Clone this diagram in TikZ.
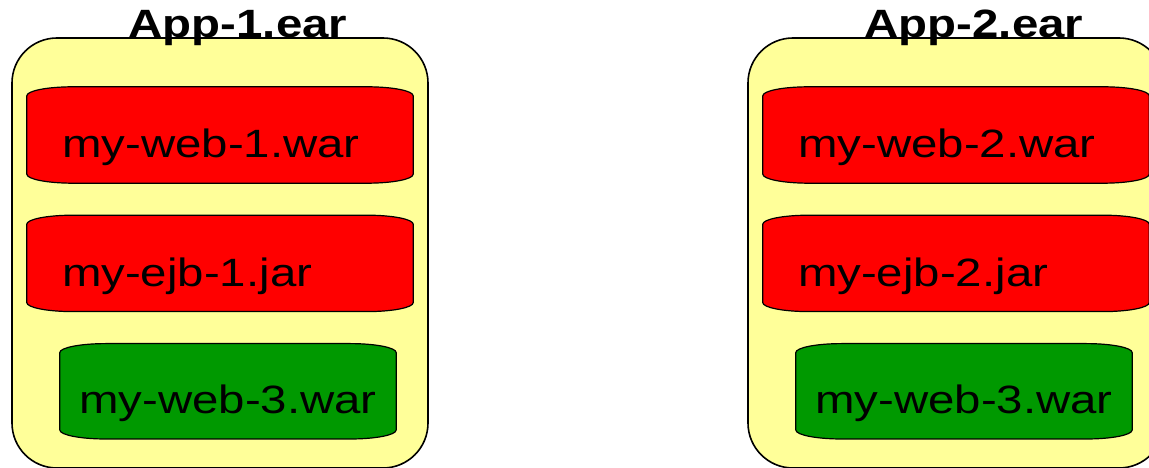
\documentclass[tikz,border=0pt]{standalone}
\usepackage{fontspec}
\setmainfont[FakeStretch=1.2]{Liberation Sans}
\usepackage{xcolor}
\usepackage{tikz}
\usetikzlibrary{positioning}
\definecolor{earyellow}{HTML}{FFFF99}
\definecolor{warred}{HTML}{FF0000}
\definecolor{wargreen}{HTML}{009900}
\tikzset{
    ear/.style={rectangle, draw=black, line width=1.6pt, fill=earyellow, rounded corners=45pt, minimum width=416pt, minimum height=430pt},
    eartitle/.style={font=\fontsize{39.5}{47}\selectfont\bfseries, anchor=base, inner sep=0pt},
    archive/.style={rectangle, inner sep=0pt, minimum width=386pt, minimum height=96pt},
    archiveline/.style={draw=black, line width=1.2pt},
    wartext/.style={font=\fontsize{39.5}{47}\selectfont, anchor=base, inner sep=0pt}
}
% outline of an archive: flat sides, shallow curved top and bottom
\newcommand{\plaque}[2]{%
    \filldraw[archiveline, fill=#2]
        ([yshift=-9pt]#1.north west) arc[x radius=46pt, y radius=9pt, start angle=180, end angle=90]
        -- ([xshift=-46pt]#1.north east) arc[x radius=46pt, y radius=9pt, start angle=90, end angle=0]
        -- ([yshift=9pt]#1.south east) arc[x radius=46pt, y radius=9pt, start angle=0, end angle=-90]
        -- ([xshift=46pt]#1.south west) arc[x radius=46pt, y radius=9pt, start angle=270, end angle=180]
        -- cycle;}

\begin{document}
\begin{tikzpicture}[x=1pt, y=1pt]
        \useasboundingbox (0,0) rectangle (1149,468);
        \clip (0,0) rectangle (1149,468);

        % Containers
        \node[ear] (ear1) at (220,215) {};
        \node[ear] (ear2) at (956,215) {};

        % Archives
        \node[archive] (web1) at (220,333) {};
        \node[archive, below=32pt of web1] (ejb1) {};
        \node[archive, minimum width=336pt, minimum height=95pt, below=32pt of ejb1, xshift=8pt] (shared1) {};

        \node[archive] (web2) at (956,333) {};
        \node[archive, below=32pt of web2] (ejb2) {};
        \node[archive, minimum width=336pt, minimum height=95pt, below=32pt of ejb2, xshift=8pt] (shared2) {};

        \plaque{web1}{warred}
        \plaque{ejb1}{warred}
        \plaque{shared1}{wargreen}
        \plaque{web2}{warred}
        \plaque{ejb2}{warred}
        \plaque{shared2}{wargreen}

        % Labels
        \node[eartitle] (title1) at (238,430.5) {App-1.ear};
        \node[eartitle] (title2) at (974,430.5) {App-2.ear};

        \node[wartext] (web1text) at ([xshift=-9pt, yshift=-23pt]web1.center) {my-web-1.war};
        \node[wartext, anchor=base west] (ejb1text) at ([xshift=35pt, yshift=-23pt]ejb1.west) {my-ejb-1.jar};
        \node[wartext] (shared1text) at ([yshift=-22.5pt]shared1.center) {my-web-3.war};

        \node[wartext] (web2text) at ([xshift=-9pt, yshift=-23pt]web2.center) {my-web-2.war};
        \node[wartext, anchor=base west] (ejb2text) at ([xshift=35pt, yshift=-23pt]ejb2.west) {my-ejb-2.jar};
        \node[wartext] (shared2text) at ([yshift=-22.5pt]shared2.center) {my-web-3.war};

    \end{tikzpicture}
\end{document}
